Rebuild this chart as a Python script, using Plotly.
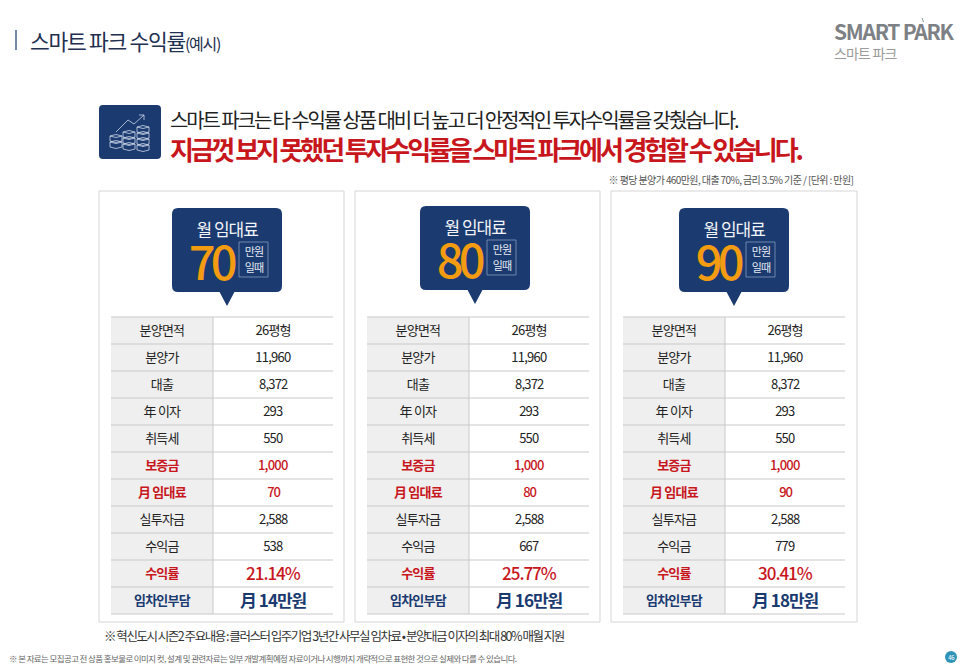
import json
import plotly.graph_objects as go

FONT = "Noto Sans CJK KR"
NAVY = "#1a3a70"
RED = "#c8161d"

# table data
row_labels = ["분양면적", "분양가", "대출", "年 이자", "취득세", "보증금", "月 임대료", "실투자금", "수익금", "수익률", "임차인부담"]
area = ["26평형", "26평형", "26평형"]
price = ["11,960", "11,960", "11,960"]
loan = ["8,372", "8,372", "8,372"]
interest = ["293", "293", "293"]
tax = ["550", "550", "550"]
deposit = ["1,000", "1,000", "1,000"]
rent = ["70", "80", "90"]
invest = ["2,588", "2,588", "2,588"]
profit = ["538", "667", "779"]
rate = ["21.14%", "25.77%", "30.41%"]
burden = ["月 14만원", "月 16만원", "月 18만원"]
columns = [area, price, loan, interest, tax, deposit, rent, invest, profit, rate, burden]

# layout of the three cards
panel_x = [99, 355, 611]
panel_w = [245, 245, 246]
bubble_x = [172, 420, 679]
bubble_y = [208, 206, 208]
table_x = [111, 367, 623]
row_top = 317
row_h = 27
red_rows = [5, 6, 9]

fig = go.Figure()
shapes = []
notes = []


def text(x, y, s, size, color="#222222", anchor="center", weight=None):
    font = dict(family=FONT, size=size, color=color)
    if weight:
        font["weight"] = weight
    notes.append(dict(x=x, y=y - 1, text=s, showarrow=False, xanchor=anchor, yanchor="middle",
                      align=anchor, font=font, borderpad=0, borderwidth=0))


def rrect(x0, y0, x1, y1, r):
    return (f"M{x0+r},{y0} L{x1-r},{y0} Q{x1},{y0} {x1},{y0+r} L{x1},{y1-r} Q{x1},{y1} {x1-r},{y1} "
            f"L{x0+r},{y1} Q{x0},{y1} {x0},{y1-r} L{x0},{y0+r} Q{x0},{y0} {x0+r},{y0} Z")


def line(x0, y0, x1, y1, color, width=1):
    shapes.append(dict(type="line", x0=x0, y0=y0, x1=x1, y1=y1, line=dict(color=color, width=width)))


# header
line(16, 30, 16, 50, "#1a3a70", 1.2)
text(30, 41, '스마트 파크 수익률<span style="font-size:16px">(예시)</span>', 21.5, "#1f3050", "left")
text(834, 32, "SMART PARK", 21, "#7d8185", "left", 700)
line(922, 18, 923.5, 22, "#7d9a8a", 1)
text(834, 54, "스마트 파크", 14, "#9a9a9a", "left")

# icon
shapes.append(dict(type="path", path=rrect(99, 105, 161, 159, 4), fillcolor=NAVY, line=dict(width=0)))
for cx, top in zip([116, 129, 143], [136, 132, 127]):
    y = top
    while y < 148:
        shapes.append(dict(type="path", path=f"M{cx-6},{y} Q{cx},{y-3} {cx+6},{y} Q{cx},{y+3} {cx-6},{y} L{cx-6},{y+5} Q{cx},{y+8} {cx+6},{y+5} L{cx+6},{y}",
                           line=dict(color="#cdd7e8", width=0.8)))
        y += 6
shapes.append(dict(type="path", path="M116,132 L128,120 L134,124 L144,115 M139,115 L144,115 L144,120",
                   line=dict(color="#cdd7e8", width=0.8)))

# headline
text(170, 120, "스마트 파크는 타 수익률 상품 대비 더 높고 더 안정적인 투자수익률을 갖췄습니다.", 20, "#222222", "left")
text(170, 149, "지금껏 보지 못했던 투자수익률을 스마트 파크에서 경험할 수 있습니다.", 26, RED, "left", 700)
text(853, 180, "※ 평당 분양가 460만원, 대출 70%, 금리 3.5% 기준 / [단위 : 만원]", 10, "#555555", "right")

# cards
for p in range(3):
    px, bx, by, tx = panel_x[p], bubble_x[p], bubble_y[p], table_x[p]
    shapes.append(dict(type="rect", x0=px, y0=191, x1=px + panel_w[p], y1=622,
                       line=dict(color="#d6d6d6", width=1), fillcolor="white"))
    # speech bubble
    shapes.append(dict(type="path", path=rrect(bx, by, bx + 110, by + 84, 6), fillcolor=NAVY, line=dict(width=0)))
    shapes.append(dict(type="path", path=f"M{bx+47},{by+83} L{bx+55},{by+98} L{bx+63},{by+83} Z",
                       fillcolor=NAVY, line=dict(width=0)))
    shapes.append(dict(type="rect", x0=bx + 67, y0=by + 34, x1=bx + 96, y1=by + 69,
                       line=dict(color="#6f86ad", width=1)))
    text(bx + 55, by + 21, "월 임대료", 17, "#f2f4f8")
    text(bx + 39, by + 52, rent[p], 47, "#f39c12", weight=500)
    text(bx + 81.5, by + 44, "만원", 11, "#e6eaf2")
    text(bx + 81.5, by + 60, "일때", 11, "#e6eaf2")

    # table
    shapes.append(dict(type="rect", x0=tx, y0=row_top, x1=tx + 102, y1=row_top + row_h * len(row_labels),
                       fillcolor="#efefef", line=dict(width=0)))
    for i in range(len(row_labels) + 1):
        line(tx, row_top + row_h * i, tx + 222, row_top + row_h * i, "#c9c9c9", 1)
    line(tx + 102, row_top, tx + 102, row_top + row_h * len(row_labels), "#c9c9c9", 1)
    for i, lab in enumerate(row_labels):
        cy = row_top + row_h * i + 13.5
        val = columns[i][p]
        if i == 10:
            text(tx + 51, cy, lab, 13, NAVY, weight=700)
            text(tx + 162, cy, val, 17, NAVY, weight=700)
        elif i == 9:
            text(tx + 51, cy, lab, 13, RED, weight=700)
            text(tx + 162, cy, val, 17, RED, weight=500)
        elif i in red_rows:
            text(tx + 51, cy, lab, 13, RED, weight=700)
            text(tx + 162, cy, val, 13, RED, weight=500)
        else:
            text(tx + 51, cy, lab, 13, "#222222")
            text(tx + 162, cy, val, 13, "#222222")

# footer
text(104, 636, "※ 혁신도시 시즌2 주요내용 : 클러스터 입주기업 3년간 사무실 임차료 • 분양대금 이자의 최대 80% 매월 지원", 12.5, "#333333", "left")
text(9, 659, "※ 본 자료는 모집공고 전 상품 홍보물로 이미지 컷, 설계 및 관련자료는 일부 개발계획예정 자료이거나 시행까지 개략적으로 표현한 것으로 실제와 다를 수 있습니다.", 8.5, "#666666", "left")
shapes.append(dict(type="circle", x0=945, y0=651, x1=957, y1=663, fillcolor="#2f93b8", line=dict(width=0)))
text(951, 658, "46", 6, "white")

fig.update_layout(
    width=966, height=669, margin=dict(l=0, r=0, t=0, b=0),
    paper_bgcolor="white", plot_bgcolor="white", showlegend=False,
    xaxis=dict(range=[0, 966], visible=False, fixedrange=True),
    yaxis=dict(range=[669, 0], visible=False, fixedrange=True),
    shapes=shapes, annotations=notes,
)

# tight tracking like the original artwork, and no page margin
tight = {"스마트 파크는": "-0.105em", "지금껏": "-0.12em", "※ 혁신": "-0.118em", "※ 본": "-0.073em", "70": "-0.1em", "80": "-0.1em", "90": "-0.1em"}
js = """
document.body.style.margin = '0';
document.body.style.overflow = 'hidden';
var tight = %s;
document.querySelectorAll('.annotation-text').forEach(function (t) {
    var sp = '-0.06em';
    Object.keys(tight).forEach(function (k) {
        if (t.textContent.indexOf(k) === 0) { sp = tight[k]; }
    });
    t.style.letterSpacing = sp;
});
""" % json.dumps(tight, ensure_ascii=False)
fig.write_html("out.html", post_script=js, config=dict(displayModeBar=False))
